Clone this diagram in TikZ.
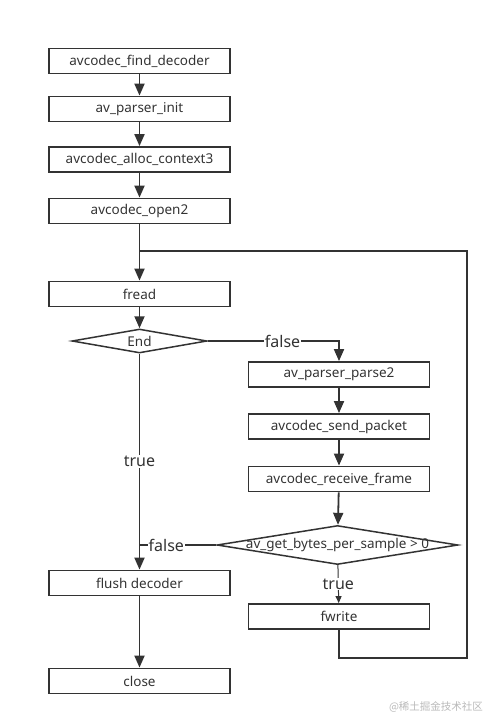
\documentclass[tikz,border=0pt]{standalone}
\usepackage{fontspec}
\setmainfont{Noto Sans}
\newfontfamily\cjkfont{Noto Sans CJK SC}
\usepackage{tikz}
\usepackage{xcolor}
\usetikzlibrary{positioning,arrows.meta,shapes.geometric}
\definecolor{ink}{HTML}{333333}

\begin{document}
\begin{tikzpicture}[
  x=1pt, y=-1pt,
  >={Triangle[length=12pt,width=10pt]},
  func/.style={draw=ink, line width=1.8pt, minimum width=181pt, minimum height=25pt, inner sep=0pt, font=\fontsize{13.5}{15}\selectfont, text=ink},
  cond/.style={diamond, draw=ink, line width=1.5pt, inner sep=0pt},
  condtext/.style={font=\fontsize{13.5}{15}\selectfont, text=ink},
  arr/.style={->, draw=ink, line width=1.8pt},
  thinarr/.style={-{Triangle[length=7pt,width=6pt]}, draw=ink, line width=1pt},
  link/.style={draw=ink, line width=1.8pt},
  lab/.style={fill=white, inner sep=1pt, font=\fontsize{16}{18}\selectfont, text=ink}
]
  \useasboundingbox (0,0) rectangle (499,726);

  % Initialisation
  \node[func] (find) at (139.5,61) {avcodec\_find\_decoder};
  \node[func] (init) at (139.5,109) {av\_parser\_init};
  \node[func] (alloc) at (139.5,159.5) {avcodec\_alloc\_context3};
  \node[func] (open) at (139.5,211) {avcodec\_open2};

  % Main loop
  \node[func] (fread) at (139.5,294) {fread};
  \node[cond, minimum width=135pt, minimum height=24pt, label={[condtext]center:End}] (end) at (139.5,341) {};
  \node[func] (parse) at (339,374.5) {av\_parser\_parse2};
  \node[func] (send) at (339,426.5) {avcodec\_send\_packet};
  \node[func] (recv) at (339,479) {avcodec\_receive\_frame};
  \node[cond, minimum width=241pt, minimum height=39pt, label={[condtext]center:av\_get\_bytes\_per\_sample > 0}] (gbps) at (337.5,545) {};
  \node[func] (fwrite) at (339,616.5) {fwrite};

  % Ending
  \node[func] (flush) at (139.5,583) {flush decoder};
  \node[func] (close) at (139.5,681) {close};

  \coordinate (loopbr) at (467,658);
  \coordinate (looptr) at (467,251);
  \coordinate (join) at (139.5,251);

  \draw[arr] (find) -- (init);
  \draw[arr] (init) -- (alloc);
  \draw[arr] (alloc) -- (open);
  \draw[arr] (open) -- (fread);
  \draw[arr] (fread) -- (end);
  \draw[arr] (end.east) -| node[lab, pos=0.285] {false} (parse);
  \draw[arr] (parse) -- (send);
  \draw[arr] (send) -- (recv);
  \draw[arr] (recv) -- (gbps);
  \draw[arr] (end) -- node[lab] {true} (flush);
  \draw[link] (gbps.west) -- node[lab, pos=0.65] {false} (end.south |- gbps.west);
  \draw[thinarr] (gbps) -- node[lab] {true} (fwrite);
  \draw[link] (fwrite.south) |- (loopbr) -- (looptr) -- (join);
  \draw[arr] (flush) -- (close);

  \node[font=\cjkfont\fontsize{10.5}{12}\selectfont, text=gray!55] (mark) at (436,707) {@稀土掘金技术社区};
\end{tikzpicture}
\end{document}
